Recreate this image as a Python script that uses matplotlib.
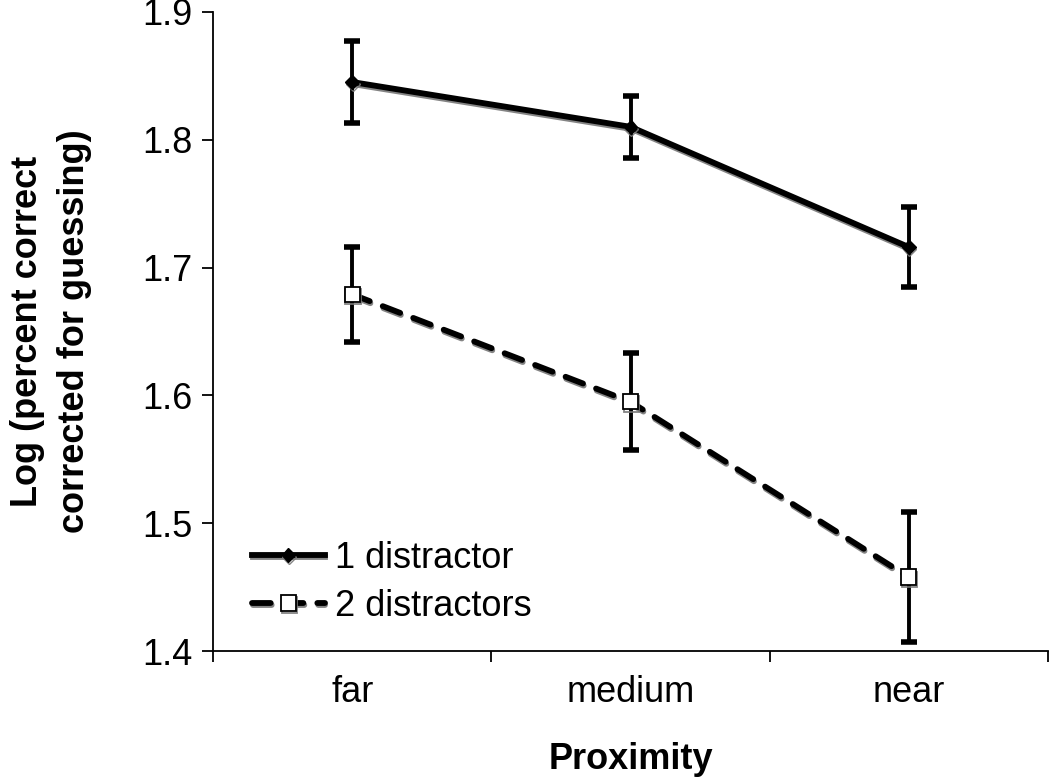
import matplotlib.pyplot as plt
import matplotlib.patheffects as pe

plt.rcParams['font.family'] = ['Liberation Sans', 'DejaVu Sans']

categories = ['far', 'medium', 'near']
one_mean = [1.845, 1.810, 1.716]
one_err = [0.032, 0.024, 0.031]
two_mean = [1.679, 1.595, 1.458]
two_err = [0.037, 0.038, 0.051]

fig = plt.figure(figsize=(10.5, 7.8), dpi=100)
ax = fig.add_axes([0.203, 0.165, 0.795, 0.82])

x = list(range(len(categories)))
shadow = [pe.SimpleLineShadow(offset=(0.5, -1.5), shadow_color='#777777', alpha=0.9), pe.Normal()]

# error bars first, then lines on top
for mean, err in [(one_mean, one_err), (two_mean, two_err)]:
    ax.errorbar(x, mean, yerr=err, fmt='none', ecolor='black', elinewidth=2.8,
                capsize=5.5, capthick=4, zorder=2)

ax.plot(x, one_mean, color='black', lw=4.2, marker='D', markersize=7,
        label='1 distractor', path_effects=shadow, zorder=3)
ax.plot(x, two_mean, color='black', lw=4.2, dashes=(3.2, 2.4), dash_capstyle='round',
        marker='s', markersize=11, markerfacecolor='white', markeredgecolor='black',
        markeredgewidth=1.3, label='2 distractors', path_effects=shadow, zorder=3)

ax.set_xlim(-0.5, 2.5)
ax.set_ylim(1.4, 1.9)
ax.set_yticks([1.4, 1.5, 1.6, 1.7, 1.8, 1.9])
ax.set_yticklabels(['1.4', '1.5', '1.6', '1.7', '1.8', '1.9'])
ax.set_xticks([-0.5, 0.5, 1.5, 2.5])
ax.set_xticklabels([])
ax.set_xticks(x, minor=True)
ax.set_xticklabels(categories, minor=True)
ax.tick_params(axis='x', which='major', direction='out', length=8, width=1.3)
ax.tick_params(axis='x', which='minor', length=0, pad=17, labelsize=26)
ax.tick_params(axis='y', direction='out', length=8, width=1.3, labelsize=26, pad=7)

for side in ['top', 'right']:
    ax.spines[side].set_visible(False)
for side in ['left', 'bottom']:
    ax.spines[side].set_linewidth(1.3)

ax.set_ylabel('Log (percent correct\ncorrected for guessing)', fontsize=26,
              fontweight='bold', labelpad=36, linespacing=1.45)
ax.set_xlabel('Proximity', fontsize=26, fontweight='bold', labelpad=23)

ax.legend(loc='upper left', bbox_to_anchor=(0.047, 0.173), frameon=False, fontsize=26,
          handlelength=2.0, handletextpad=0.3, labelspacing=0.36,
          borderpad=0, borderaxespad=0)

fig.savefig('out.png', dpi=100)
